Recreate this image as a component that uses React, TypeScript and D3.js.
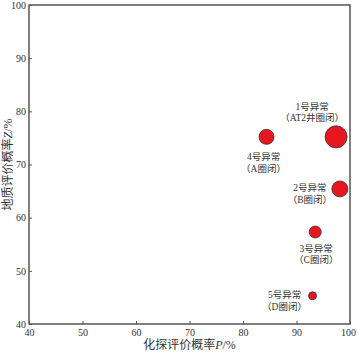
import React, { useEffect, useRef } from 'react';
import * as d3 from 'd3';

// anomaly data
const names = ['1号异常', '2号异常', '3号异常', '4号异常', '5号异常'];
const traps = ['（AT2井圈闭）', '（B圈闭）', '（C圈闭）', '（A圈闭）', '（D圈闭）'];
const pValues = [97.4, 98.1, 93.5, 84.4, 93.0]; // 化探评价概率 P
const zValues = [75.2, 65.4, 57.3, 75.2, 45.3]; // 地质评价概率 Z
const sizes = [11, 8, 6, 7.5, 4]; // bubble radius (px)
const xTicks = [40, 50, 60, 70, 80, 90, 100];
const yTicks = [40, 50, 60, 70, 80, 90, 100];

// label offsets relative to each bubble (layout only)
const labelOffsets: [number, number][] = [
  [-24, -27],
  [-30, 2.5],
  [1, 19.5],
  [-3, 23.5],
  [-28, 2.5],
];

const FONT = '"Liberation Serif", "Noto Sans CJK SC", serif';

const App = () => {
  const svgRef = useRef<SVGSVGElement>(null);

  useEffect(() => {
    const width = 357;
    const height = 353;
    const margin = { top: 5, right: 7, bottom: 29, left: 29 };
    const innerWidth = width - margin.left - margin.right;
    const innerHeight = height - margin.top - margin.bottom;

    const svg = d3.select(svgRef.current);
    svg.selectAll('*').remove();

    const g = svg.append('g').attr('transform', `translate(${margin.left},${margin.top})`);

    const x = d3.scaleLinear().domain([40, 100]).range([0, innerWidth]);
    const y = d3.scaleLinear().domain([40, 100]).range([innerHeight, 0]);

    const axisColor = '#555';

    // frame
    g.append('rect')
      .attr('width', innerWidth)
      .attr('height', innerHeight)
      .attr('fill', 'none')
      .attr('stroke', axisColor)
      .attr('stroke-width', 1.5);

    // x axis (ticks inward)
    const xa = g.append('g')
      .attr('transform', `translate(0,${innerHeight})`)
      .call(d3.axisBottom(x).tickValues(xTicks).tickSize(-3).tickPadding(5).tickFormat(d3.format('d')));
    xa.select('.domain').remove();
    xa.selectAll('line').attr('stroke', axisColor);
    xa.selectAll('text')
      .attr('fill', '#333')
      .style('font-family', FONT)
      .style('font-size', '10px');
    // last label pulled in so it stays inside the picture
    xa.selectAll<SVGTextElement, number>('text')
      .filter(d => d === 100)
      .attr('dx', -2);

    // y axis
    const ya = g.append('g')
      .call(d3.axisLeft(y).tickValues(yTicks).tickSize(-3).tickPadding(3).tickFormat(d3.format('d')));
    ya.select('.domain').remove();
    ya.selectAll('line').attr('stroke', axisColor);
    ya.selectAll('text')
      .attr('fill', '#333')
      .style('font-family', FONT)
      .style('font-size', '10px');

    // x label
    const xl = svg.append('text')
      .attr('x', margin.left + innerWidth / 2)
      .attr('y', height - 4)
      .attr('text-anchor', 'middle')
      .attr('fill', '#333')
      .style('font-family', FONT)
      .style('font-size', '12px');
    xl.append('tspan').text('化探评价概率');
    xl.append('tspan').attr('font-style', 'italic').text('P');
    xl.append('tspan').text('/%');

    // y label
    const yl = svg.append('text')
      .attr('transform', `translate(12,${margin.top + innerHeight / 2}) rotate(-90)`)
      .attr('text-anchor', 'middle')
      .attr('fill', '#333')
      .style('font-family', FONT)
      .style('font-size', '12px');
    yl.append('tspan').text('地质评价概率');
    yl.append('tspan').attr('font-style', 'italic').text('Z');
    yl.append('tspan').text('/%');

    const points = names.map((n, i) => ({
      name: n,
      trap: traps[i],
      p: pValues[i],
      z: zValues[i],
      r: sizes[i],
      off: labelOffsets[i],
    }));

    g.selectAll('circle.bubble')
      .data(points)
      .enter()
      .append('circle')
      .attr('class', 'bubble')
      .attr('cx', d => x(d.p))
      .attr('cy', d => y(d.z))
      .attr('r', d => d.r)
      .attr('fill', '#e8161e')
      .attr('stroke', '#333')
      .attr('stroke-width', 0.8);

    const labels = g.selectAll('g.label')
      .data(points)
      .enter()
      .append('g')
      .attr('class', 'label')
      .attr('transform', d => `translate(${x(d.p) + d.off[0]},${y(d.z) + d.off[1]})`)
      .style('font-family', FONT)
      .style('font-size', '9.5px')
      .attr('fill', '#333')
      .attr('text-anchor', 'middle');

    labels.append('text').attr('y', 0).text(d => d.name);
    labels.append('text').attr('y', 11.5).text(d => d.trap);
  }, []);

  return (
    <div>
      <svg ref={svgRef} width={357} height={353} style={{ display: 'block', position: 'absolute', left: 0, top: 0 }}></svg>
    </div>
  );
};

export default App;
